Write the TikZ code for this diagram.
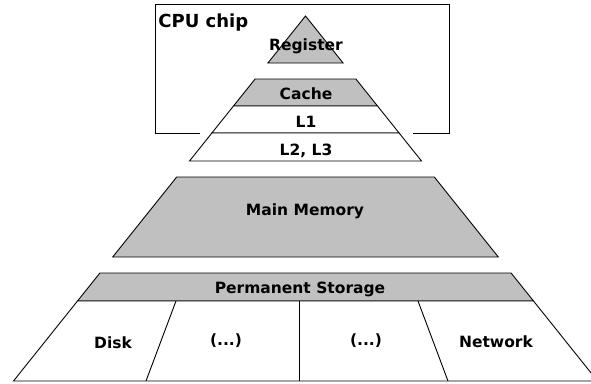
\documentclass[tikz,border=0pt]{standalone}
\usepackage{fontspec}
\setmainfont{DejaVu Sans}
\definecolor{memgray}{RGB}{192,192,192}

\begin{document}
\begin{tikzpicture}[x=1pt,y=-1pt,line width=0.9pt,
    lbl/.style={font=\bfseries\fontsize{15.5}{18}\selectfont, anchor=base, inner sep=0pt}]
  % Define parameters
  \def\cx{305.5}     % Centre line of the pyramid
  \def\apexY{16}     % Apex of the pyramid
  \def\slope{0.8}    % Half width grows by this per unit of depth

  \useasboundingbox (0,0) rectangle (591,383);
  \clip (0,0) rectangle (591,383);

  % Register (tip of the pyramid)
  \filldraw[fill=memgray] (\cx,\apexY) -- ({\cx-\slope*(63-\apexY)},63) -- ({\cx+\slope*(63-\apexY)},63) -- cycle;

  % Layers: top/bottom/fill
  \foreach \ytop/\ybot/\col in {79/106/memgray, 106/133/white, 133/161/white, 177/257/memgray, 273/301/memgray, 301/381/white} {
      \filldraw[fill=\col] ({\cx-\slope*(\ytop-\apexY)},\ytop) -- ({\cx+\slope*(\ytop-\apexY)},\ytop)
          -- ({\cx+\slope*(\ybot-\apexY)},\ybot) -- ({\cx-\slope*(\ybot-\apexY)},\ybot) -- cycle;
  }

  % Dividers of the permanent storage
  \draw (176,301) -- (146,381);
  \draw (299,301) -- (299,381);
  \draw (418,301) -- (448,381);

  % CPU chip box, open where the pyramid passes
  \draw (200,133) -- (155,133) -- (155,4) -- (449,4) -- (449,133) -- (413,133);

  % Labels
  \node[lbl, anchor=base west, font=\bfseries\fontsize{18}{20}\selectfont] (cpu) at (158,27) {CPU chip};
  \node[lbl] (reg) at (306,50) {Register};
  \node[lbl] (cache) at (306,99) {Cache};
  \node[lbl] (lone) at (306,127) {L1};
  \node[lbl] (ltwo) at (306,155) {L2, L3};
  \node[lbl] (mem) at (305,215) {Main Memory};
  \node[lbl] (perm) at (300,293) {Permanent Storage};
  \node[lbl] (disk) at (113,348) {Disk};
  \node[lbl] (etca) at (226,345) {(...)};
  \node[lbl] (etcb) at (366,345) {(...)};
  \node[lbl] (net) at (496,347) {Network};
\end{tikzpicture}
\end{document}
